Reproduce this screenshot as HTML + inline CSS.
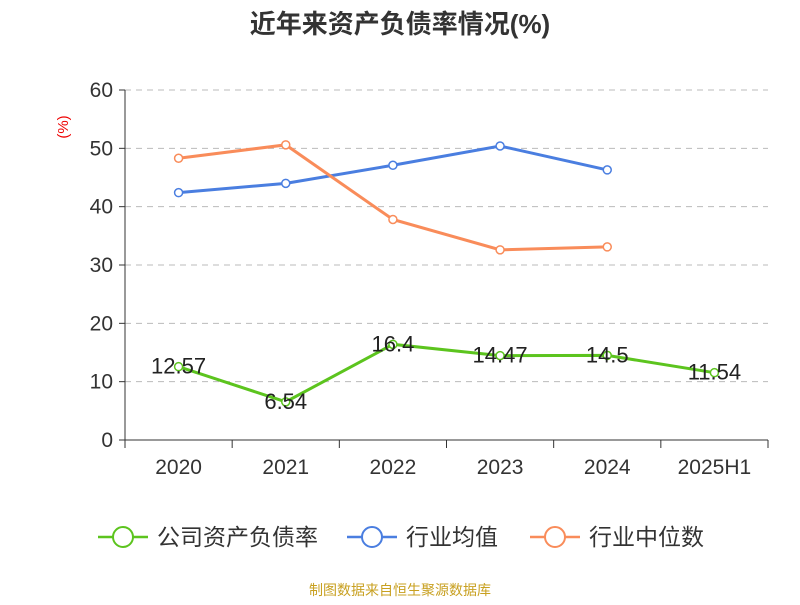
<!DOCTYPE html>
<html><head><meta charset="utf-8"><style>
body{margin:0;background:#fff;width:800px;height:600px;overflow:hidden}
text{font-family:"Liberation Sans","Noto Sans CJK SC",sans-serif}
</style></head><body>
<svg id="c" width="800" height="600" xmlns="http://www.w3.org/2000/svg">
<text x="400" y="33" text-anchor="middle" font-size="26" font-weight="bold" fill="#333">近年来资产负债率情况(%)</text>
<text transform="translate(68,127) rotate(-90)" text-anchor="middle" font-size="15" fill="#e00">(%)</text>
<g id="grid"></g><g id="axes"></g><g id="series"></g>
<g id="legend" font-size="23" fill="#333"></g>
<text x="400" y="595" text-anchor="middle" font-size="14" fill="#c8a020">制图数据来自恒生聚源数据库</text>
</svg>
<script>
const categories=["2020","2021","2022","2023","2024","2025H1"];
const companyValues=[12.57,6.54,16.4,14.47,14.5,11.54];
const companyLabels=["12.57","6.54","16.4","14.47","14.5","11.54"];
const industryAvg=[42.4,44.0,47.1,50.4,46.3];
const industryMedian=[48.3,50.6,37.8,32.6,33.1];
const yTicks=[0,10,20,30,40,50,60];
const NS="http://www.w3.org/2000/svg";
const L=125,R=768,T=90,B=440,yMax=60;
const bw=(R-L)/categories.length;
const xs=i=>L+bw*(i+0.5);
const ys=v=>B-(v/yMax)*(B-T);
function mk(t,a,p){const e=document.createElementNS(NS,t);for(const k in a)e.setAttribute(k,a[k]);(p||document.getElementById('c')).appendChild(e);return e;}
const grid=document.getElementById('grid'),axes=document.getElementById('axes'),ser=document.getElementById('series'),leg=document.getElementById('legend');
yTicks.forEach(v=>{
 if(v>0){const g=mk('line',{x1:L,x2:R,y1:ys(v),y2:ys(v),stroke:'#bbb','stroke-dasharray':'6,5'},grid);
 
 }
 const tk=mk('line',{x1:L-6,x2:L,y1:ys(v),y2:ys(v),stroke:'#333'},axes);
 
 
 const t=mk('text',{x:L-12,y:ys(v)+7,'text-anchor':'end','font-size':21,fill:'#333'},axes);t.textContent=v;
 
 
});
const ya=mk('line',{x1:L,x2:L,y1:T,y2:B,stroke:'#333'},axes);


const xa=mk('line',{x1:L,x2:R,y1:B,y2:B,stroke:'#333'},axes);


for(let i=0;i<=categories.length;i++){const tk=mk('line',{x1:L+bw*i,x2:L+bw*i,y1:B,y2:B+8,stroke:'#333'},axes);
 
 }
categories.forEach((c,i)=>{const t=mk('text',{x:xs(i),y:B+34,'text-anchor':'middle','font-size':21,fill:'#333'},axes);t.textContent=c;
 
 });
function line(vals,color,name){
 const g=mk('g',{},ser);
 
 
 mk('polyline',{points:vals.map((v,i)=>xs(i)+','+ys(v)).join(' '),fill:'none',stroke:color,'stroke-width':3},g);
 vals.forEach((v,i)=>{const c=mk('circle',{cx:xs(i),cy:ys(v),r:4,fill:'#fff',stroke:color,'stroke-width':1.5},g);
  
  });
}
line(industryAvg,'#4a7ee0','industry-average-line');
line(industryMedian,'#f98c5a','industry-median-line');
line(companyValues,'#5cc41e','company-debt-ratio-line');
companyValues.forEach((v,i)=>{const t=mk('text',{x:xs(i),y:ys(v)+7,'text-anchor':'middle','font-size':22,fill:'#222'},ser);t.textContent=companyLabels[i];
 
 });
const items=[["公司资产负债率","#5cc41e",98],["行业均值","#4a7ee0",347],["行业中位数","#f98c5a",530]];
items.forEach(([n,c,x])=>{const g=mk('g',{},leg);
 
 
 mk('line',{x1:x,x2:x+50,y1:537,y2:537,stroke:c,'stroke-width':2.5},g);
 mk('circle',{cx:x+25,cy:537,r:10,fill:'#fff',stroke:c,'stroke-width':2},g);
 const t=mk('text',{x:x+59,y:545,'font-size':23,fill:'#333'},g);t.textContent=n;});
</script>
</body></html>
